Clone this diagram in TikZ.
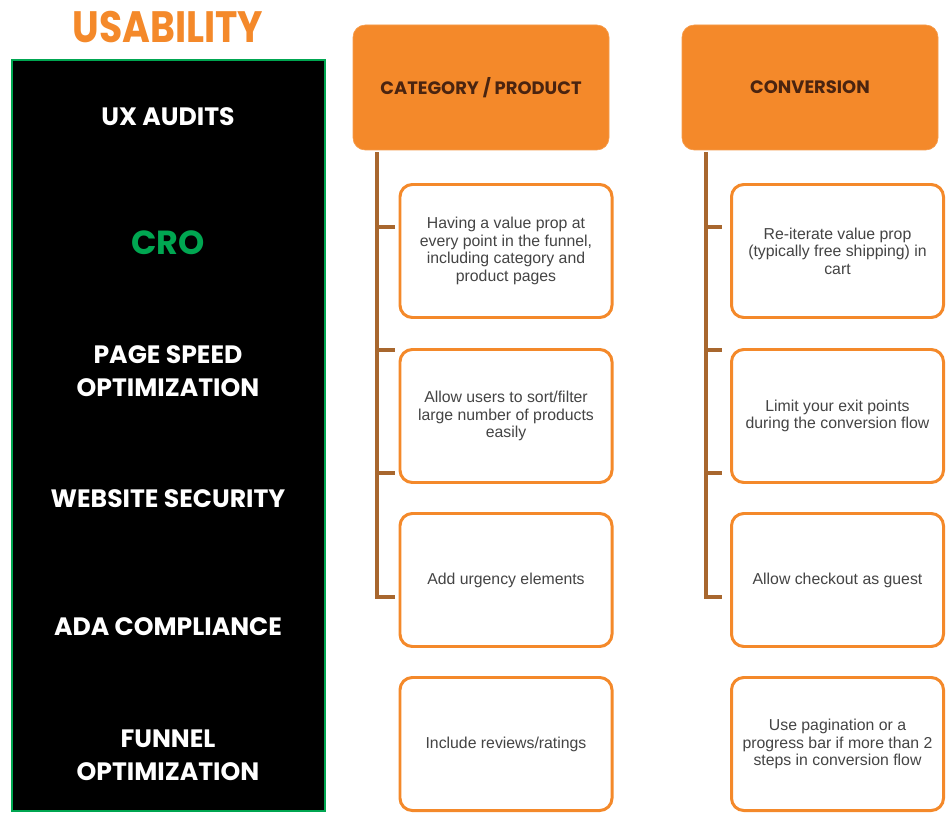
\documentclass[tikz,border=0pt]{standalone}
\usepackage{fontspec}
\setmainfont{Liberation Sans}
\newfontfamily\gothic{Poppins}
\usepackage{tikz}
\usetikzlibrary{calc}

\definecolor{uorange}{HTML}{F4892A}
\definecolor{ugreen}{HTML}{00A651}
\definecolor{utrunk}{HTML}{A8672E}
\definecolor{utext}{HTML}{444444}
\definecolor{uhead}{HTML}{4A2410}

\tikzset{
  panel/.style={fill=black, draw=ugreen, line width=1.2pt},
  side/.style={text=white, align=center, font=\gothic\bfseries\fontsize{14.3}{19}\selectfont},
  head/.style={fill=uorange, draw=uorange!85!white, rounded corners=7pt,
    minimum width=5.12cm, minimum height=2.5cm, text=uhead,
    font=\gothic\bfseries\fontsize{10.2}{11}\selectfont},
  tip/.style={draw=uorange, line width=1.7pt, rounded corners=7pt, fill=white,
    minimum width=4.24cm, minimum height=2.66cm, align=center, text=utext,
    font=\fontsize{9}{10}\selectfont},
  trunk/.style={draw=utrunk, line width=2.2pt},
}

\begin{document}
\begin{tikzpicture}
        \useasboundingbox[fill=white] (0,0) rectangle (19.02,-16.34);

        % left panel
        \node[text=uorange, font=\gothic\bfseries\fontsize{25}{28}\selectfont] (title) at (3.36,-0.54) {\scalebox{0.86}[1]{USABILITY}};
        \draw[panel] (0.24,-1.2) rectangle (6.5,-16.22);
        \node[side] (ux) at (3.36,-2.34) {UX AUDITS};
        \node[side, text=ugreen, font=\gothic\bfseries\fontsize{19}{22}\selectfont] (cro) at (3.36,-4.86) {CRO};
        \node[side] (speed) at (3.36,-7.42) {PAGE SPEED\\OPTIMIZATION};
        \node[side] (sec) at (3.36,-9.98) {WEBSITE SECURITY};
        \node[side] (ada) at (3.36,-12.54) {ADA COMPLIANCE};
        \node[side] (funnel) at (3.36,-15.10) {FUNNEL\\OPTIMIZATION};

        % headers
        \node[head] (cat) at (9.62,-1.75) {CATEGORY / PRODUCT};
        \node[head] (conv) at (16.2,-1.75) {CONVERSION};

        % category column
        \node[tip] (cat1) at (10.12,-5.02) {Having a value prop at\\every point in the funnel,\\including category and\\product pages};
        \node[tip] (cat2) at (10.12,-8.32) {Allow users to sort/filter\\large number of products\\easily};
        \node[tip] (cat3) at (10.12,-11.6) {Add urgency elements};
        \node[tip] (cat4) at (10.12,-14.88) {Include reviews/ratings};

        % conversion column
        \node[tip] (conv1) at (16.75,-5.02) {Re-iterate value prop\\(typically free shipping) in\\cart};
        \node[tip] (conv2) at (16.75,-8.32) {Limit your exit points\\during the conversion flow};
        \node[tip] (conv3) at (16.75,-11.6) {Allow checkout as guest};
        \node[tip] (conv4) at (16.75,-14.88) {Use pagination or a\\progress bar if more than 2\\steps in conversion flow};

        % brackets
        \coordinate (catend) at (7.9,-11.94);
        \coordinate (convend) at (14.44,-11.94);
        \draw[trunk] ([xshift=4.8mm,yshift=-1pt]cat.south west) |- (catend);
        \draw[trunk] ([xshift=4.8mm,yshift=-1pt]conv.south west) |- (convend);
        \foreach \y in {-4.54,-7.0,-9.46} {
            \draw[trunk] (7.54,\y) -- (7.9,\y);
            \draw[trunk] (14.12,\y) -- (14.44,\y);
        }
    \end{tikzpicture}
\end{document}
